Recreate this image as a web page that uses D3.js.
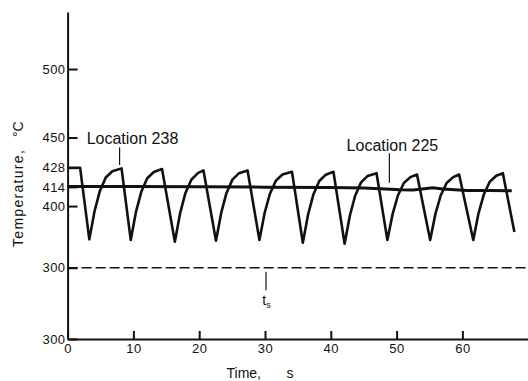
<!DOCTYPE html>
<html>
<head>
<meta charset="utf-8">
<script src="https://cdn.jsdelivr.net/npm/d3@7"></script>
<style>
  body { margin: 0; background: #fff; }
  svg { display: block; font-family: "Liberation Sans", Arial, sans-serif; }
  .axis path, .axis line { stroke: #111; stroke-width: 2; }
  .axis text { font-size: 13px; fill: #111; letter-spacing: 0.5px; }
  .note { font-size: 16px; fill: #111; }
  .lead { stroke: #111; stroke-width: 1.2; }
</style>
</head>
<body>
<script>
// Location 238 (cycling), time in s, temperature in C
var loc238Time = [0, 1.9, 3.3, 4.1, 4.9, 5.8, 6.8, 8.2,
  9.6, 10.4, 11.2, 12.1, 13.1, 14.35,
  16.3, 17.1, 17.9, 18.8, 19.8, 20.65,
  22.55, 23.35, 24.15, 25.05, 26.05, 27.35,
  29.15, 29.95, 30.75, 31.65, 32.65, 34.1,
  35.75, 36.55, 37.35, 38.25, 39.25, 40.4,
  42.1, 42.9, 43.7, 44.6, 45.6, 46.95,
  48.6, 49.4, 50.2, 51.1, 52.1, 53.1,
  55.1, 55.9, 56.7, 57.6, 58.6, 59.5,
  61.65, 62.45, 63.25, 64.15, 65.15, 66.15, 67.9];
var loc238Temp = [428, 428, 375.7, 396.4, 410.9, 420.8, 425.4, 427.5,
  375.2, 396, 410.4, 420.3, 424.9, 427,
  374, 394.8, 409.4, 419.2, 424, 426,
  374.7, 395.2, 409.6, 419.3, 424, 426,
  375.2, 395.1, 409, 418.5, 423, 425,
  373.2, 393.9, 408.4, 418.3, 422.9, 425,
  372.5, 393.1, 407.5, 417.3, 422, 424,
  375.2, 394.3, 407.7, 416.8, 421.1, 423,
  375.2, 394.3, 407.7, 416.8, 421.1, 423,
  375.2, 394.7, 408.4, 417.7, 422.1, 424, 381];

// Location 225 (steady)
var loc225Time = [0, 10, 20, 30, 40, 45, 48.3, 50.5, 52.5, 54.2, 55.5, 57, 60.7, 64, 67.5];
var loc225Temp = [414.3, 414.2, 414.1, 413.8, 413.5, 413.2, 412.5, 411.9, 411.7, 412.6, 413.4, 412.4, 411.3, 411.4, 411.2];

var satTemp = 355;

var yTicks = [303, 355, 400, 414, 428, 450, 500];
var yTickLabels = ['300', '300', '400', '414', '428', '450', '500'];
var xTicks = [0, 10, 20, 30, 40, 50, 60];

var width = 528, height = 381;

var svg = d3.select('body').append('svg')
    .attr('width', width)
    .attr('height', height);

var x = d3.scaleLinear().domain([0, 70]).range([67.6, 528.2]);
var y = d3.scaleLinear().domain([303, 541.6]).range([339, 12]);

// axes
svg.append('g')
    .attr('class', 'axis')
    .attr('transform', 'translate(' + x(0) + ',0)')
    .call(d3.axisLeft(y)
        .tickValues(yTicks)
        .tickFormat(function (d, i) { return yTickLabels[i]; })
        .tickSizeInner(-10)
        .tickSizeOuter(0)
        .tickPadding(2));

svg.append('g')
    .attr('class', 'axis')
    .attr('transform', 'translate(0,' + y.range()[0] + ')')
    .call(d3.axisBottom(x)
        .tickValues(xTicks)
        .tickSizeInner(-8)
        .tickSizeOuter(0)
        .tickPadding(5));

svg.selectAll('.axis .domain').attr('stroke-width', 2);

// saturation line
svg.append('line')
    .attr('x1', x(0)).attr('x2', x(70))
    .attr('y1', y(satTemp)).attr('y2', y(satTemp))
    .attr('stroke', '#111')
    .attr('stroke-width', 1.6)
    .attr('stroke-dasharray', '10,4');

var line = d3.line()
    .x(function (d) { return x(d[0]); })
    .y(function (d) { return y(d[1]); });

svg.append('path')
    .datum(d3.zip(loc225Time, loc225Temp))
    .attr('d', line)
    .attr('fill', 'none')
    .attr('stroke', '#111')
    .attr('stroke-width', 3);

svg.append('path')
    .datum(d3.zip(loc238Time, loc238Temp))
    .attr('d', line)
    .attr('fill', 'none')
    .attr('stroke', '#111')
    .attr('stroke-width', 2.6)
    .attr('stroke-linejoin', 'round');

// labels with leader lines
var notes = [
    {text: 'Location 238', t: 2.9, T: 445.6, lt: 7.9, lT0: 442.8, lT1: 430},
    {text: 'Location 225', t: 42.4, T: 440.1, lt: 48.9, lT0: 438.5, lT1: 417}
];

notes.forEach(function (n) {
    svg.append('text')
        .attr('class', 'note')
        .attr('x', x(n.t))
        .attr('y', y(n.T))
        .text(n.text);
    svg.append('line')
        .attr('class', 'lead')
        .attr('x1', x(n.lt)).attr('x2', x(n.lt))
        .attr('y1', y(n.lT0)).attr('y2', y(n.lT1));
});

// t_s marker
svg.append('line')
    .attr('class', 'lead')
    .attr('x1', x(30.15)).attr('x2', x(30.15))
    .attr('y1', y(352)).attr('y2', y(338.5));

var ts = svg.append('text')
    .attr('x', x(29.6))
    .attr('y', y(328))
    .attr('font-size', 14)
    .attr('fill', '#111');
ts.append('tspan').text('t');
ts.append('tspan').attr('font-size', 9).attr('dy', 3).text('s');

// axis titles
svg.append('text')
    .attr('x', 226.5).attr('y', 378)
    .attr('font-size', 14).attr('fill', '#111')
    .text('Time,');
svg.append('text')
    .attr('x', 286.5).attr('y', 378)
    .attr('font-size', 14).attr('fill', '#111')
    .text('s');

svg.append('text')
    .attr('transform', 'translate(22.5,247) rotate(-90)')
    .attr('font-size', 14).attr('fill', '#111')
    .style('letter-spacing', '1.3px')
    .text('Temperature,');
svg.append('text')
    .attr('transform', 'translate(22.5,137) rotate(-90)')
    .attr('font-size', 14).attr('fill', '#111')
    .text('°C');
</script>
</body>
</html>
